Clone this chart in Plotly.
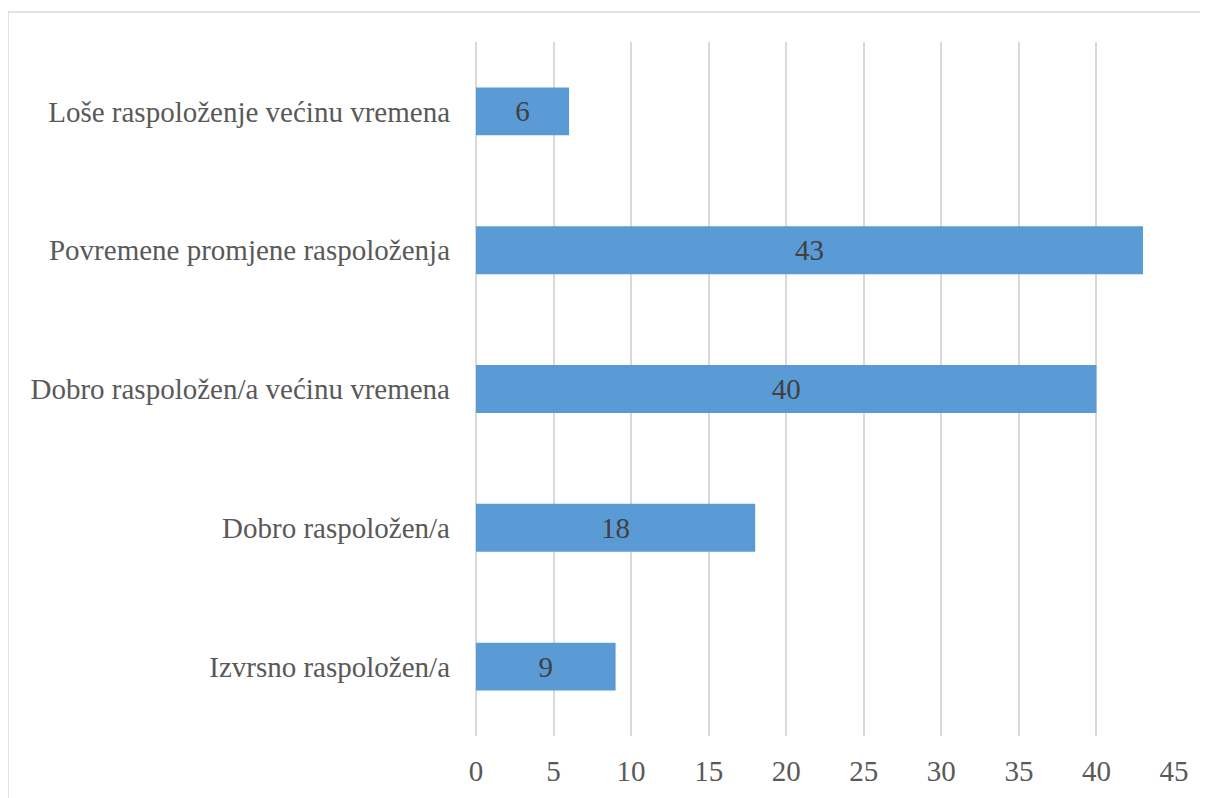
import plotly.graph_objects as go

# categories listed bottom to top
categories = [
    "Izvrsno raspoložen/a",
    "Dobro raspoložen/a",
    "Dobro raspoložen/a većinu vremena",
    "Povremene promjene raspoloženja",
    "Loše raspoloženje većinu vremena",
]
values = [9, 18, 40, 43, 6]
x_ticks = [0, 5, 10, 15, 20, 25, 30, 35, 40, 45]

font_family = "Liberation Serif, Times New Roman, serif"

fig = go.Figure()

fig.add_trace(go.Bar(
    x=values,
    y=categories,
    orientation="h",
    width=0.345,
    marker=dict(color="#5B9BD5", line=dict(width=0)),
    text=[str(v) for v in values],
    textposition="inside",
    insidetextanchor="middle",
    textangle=0,
    textfont=dict(family=font_family, size=29, color="#404040"),
    hoverinfo="skip",
))

fig.update_layout(
    width=1208,
    height=798,
    paper_bgcolor="white",
    plot_bgcolor="white",
    showlegend=False,
    margin=dict(l=468, r=42, t=34, b=70),
    font=dict(family=font_family, size=29, color="#595959"),
    xaxis=dict(
        range=[0, 45],
        tickvals=x_ticks,
        showgrid=True,
        gridcolor="#d9d9d9",
        gridwidth=2,
        zeroline=True,
        zerolinecolor="#d9d9d9",
        zerolinewidth=2,
        showline=False,
        ticks="",
        ticklabelstandoff=15,
        tickfont=dict(family=font_family, size=29, color="#595959"),
        fixedrange=True,
    ),
    yaxis=dict(
        showgrid=False,
        zeroline=False,
        showline=False,
        ticks="",
        ticklabelstandoff=25,
        tickfont=dict(family=font_family, size=29, color="#595959"),
        fixedrange=True,
    ),
    shapes=[dict(
        type="rect",
        xref="paper", yref="paper",
        x0=-0.6705, x1=1.08, y0=-0.2, y1=1.0432,
        line=dict(color="#d9d9d9", width=1.5),
        fillcolor="rgba(0,0,0,0)",
        layer="below",
    )],
)

fig.write_html("out.html")
